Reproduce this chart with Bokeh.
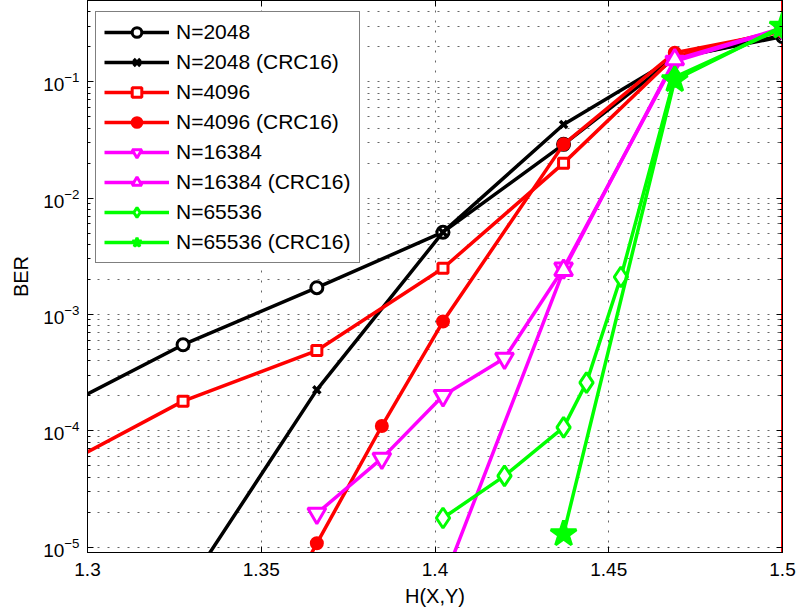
from bokeh.plotting import figure
from bokeh.models import (LinearAxis, LogAxis, FixedTicker, Span,
                          NumeralTickFormatter)
from bokeh.embed import file_html
from bokeh.resources import INLINE

# ---- data ----
x_ticks = [1.3, 1.35, 1.4, 1.45, 1.5]
y_ticks = [1e-5, 1e-4, 1e-3, 1e-2, 1e-1]

x_2048 = [1.289, 1.3275, 1.366, 1.4023, 1.437, 1.469, 1.5]
ber_2048 = [1.4e-4, 5.5e-4, 1.7e-3, 5.1e-3, 2.9e-2, 0.16, 0.245]

x_2048_crc = [1.3275, 1.366, 1.4023, 1.437, 1.469, 1.5]
ber_2048_crc = [4.0e-6, 2.25e-4, 5.1e-3, 4.3e-2, 0.16, 0.25]

x_4096 = [1.289, 1.3275, 1.366, 1.4023, 1.437, 1.469, 1.5]
ber_4096 = [4.4e-5, 1.8e-4, 4.9e-4, 2.5e-3, 2.0e-2, 0.165, 0.28]

x_4096_crc = [1.3475, 1.366, 1.3847, 1.4023, 1.437, 1.469, 1.5]
ber_4096_crc = [1.0e-6, 1.08e-5, 1.1e-4, 8.7e-4, 2.9e-2, 0.178, 0.27]

x_16384 = [1.366, 1.3847, 1.4023, 1.42, 1.437, 1.469, 1.5]
ber_16384 = [1.95e-5, 5.8e-5, 2.0e-4, 4.2e-4, 2.5e-3, 0.15, 0.285]

x_16384_crc = [1.4023, 1.437, 1.469, 1.5]
ber_16384_crc = [5.0e-6, 2.4e-3, 0.155, 0.29]

x_65536 = [1.4023, 1.42, 1.437, 1.4436, 1.4535, 1.469, 1.5]
ber_65536 = [1.78e-5, 4.1e-5, 1.07e-4, 2.6e-4, 2.1e-3, 0.11, 0.29]

x_65536_crc = [1.437, 1.469, 1.5]
ber_65536_crc = [1.3e-5, 0.104, 0.30]

labels = ["N=2048", "N=2048 (CRC16)", "N=4096", "N=4096 (CRC16)",
          "N=16384", "N=16384 (CRC16)", "N=65536", "N=65536 (CRC16)"]

FONT = "Liberation Sans"

p = figure(width=800, height=613, x_range=(1.3, 1.5), y_range=(9e-6, 0.5),
           y_axis_type="log", output_backend="svg", toolbar_location=None,
           min_border_left=87, min_border_right=18, min_border_top=0,
           min_border_bottom=61)

p.background_fill_color = "white"
p.border_fill_color = "white"
p.outline_line_color = "black"
p.outline_line_width = 1

limit = Span(location=1.5, dimension="height", line_color="#FF0000",
             line_width=3, level="underlay")
p.add_layout(limit)

styles = [
    (x_2048, ber_2048, "black", "circle", 12, "white"),
    (x_2048_crc, ber_2048_crc, "black", "x", 10, None),
    (x_4096, ber_4096, "#FF0000", "square", 10, "white"),
    (x_4096_crc, ber_4096_crc, "#FF0000", "circle", 11, "#FF0000"),
    (x_16384, ber_16384, "#FF00FF", "inverted_triangle", 18, "white"),
    (x_16384_crc, ber_16384_crc, "#FF00FF", "triangle", 18, "white"),
    (x_65536, ber_65536, "#00FF00", "diamond", 20, "white"),
    (x_65536_crc, ber_65536_crc, "#00FF00", "star", 27, "#00FF00"),
]

for lab, (xs, ys, col, mk, sz, fill) in zip(labels, styles):
    p.line(xs, ys, line_color=col, line_width=3.5, legend_label=lab)
    p.scatter(xs, ys, marker=mk, size=sz, line_color=col,
              line_width=3.5 if mk == "x" else 3,
              fill_color=fill if fill else col, legend_label=lab)

minor = [m * 10.0 ** e for e in range(-6, 0) for m in range(2, 10)]

# axes
xa = p.xaxis[0]
xa.ticker = FixedTicker(ticks=x_ticks, minor_ticks=[])
xa.formatter = NumeralTickFormatter(format="0.[00]")
ya = p.yaxis[0]
ya.ticker = FixedTicker(ticks=y_ticks, minor_ticks=minor)

for ax in (xa, ya):
    ax.major_tick_in = 6
    ax.major_tick_out = 0
    ax.minor_tick_in = 3
    ax.minor_tick_out = 0
    ax.axis_line_color = "black"
    ax.major_tick_line_color = "black"
    ax.minor_tick_line_color = "black"
    ax.major_label_text_font = FONT
    ax.major_label_text_font_size = "19px"
    ax.major_label_text_color = "black"
    ax.axis_label_text_font = FONT
    ax.axis_label_text_font_size = "20px"
    ax.axis_label_text_font_style = "normal"
    ax.axis_label_text_color = "black"

xa.axis_label = "H(X,Y)"
xa.major_label_standoff = 10
xa.axis_label_standoff = 6
ya.axis_label = "BER"
ya.major_label_standoff = 8
ya.axis_label_standoff = 8

top = LinearAxis(ticker=FixedTicker(ticks=x_ticks, minor_ticks=[]),
                 major_label_overrides={t: "" for t in x_ticks},
                 major_label_text_font_size="1px",
                 major_tick_in=6, major_tick_out=0, minor_tick_in=0,
                 minor_tick_out=0, major_label_standoff=0,
                 axis_label_standoff=0, axis_line_color="black")
p.add_layout(top, "above")
right = LogAxis(ticker=FixedTicker(ticks=y_ticks, minor_ticks=minor),
                major_label_overrides={t: "" for t in y_ticks},
                major_label_text_font_size="1px",
                major_tick_in=6, major_tick_out=0, minor_tick_in=3,
                minor_tick_out=0, major_label_standoff=0,
                axis_label_standoff=0, axis_line_color="black")
p.add_layout(right, "right")

# grid
for g in (p.xgrid[0], p.ygrid[0]):
    g.grid_line_color = "black"
    g.grid_line_dash = "2 8"
    g.grid_line_alpha = 0.6
    g.grid_line_width = 1
p.ygrid[0].minor_grid_line_color = "black"
p.ygrid[0].minor_grid_line_dash = "2 8"
p.ygrid[0].minor_grid_line_alpha = 0.6

# legend
lg = p.legend[0]
lg.location = (8, 289)
lg.margin = 0
lg.padding = 8
lg.spacing = 6
lg.glyph_width = 65
lg.glyph_height = 24
lg.label_height = 24
lg.label_standoff = 7
lg.label_text_font = FONT
lg.label_text_font_size = "21px"
lg.label_text_color = "black"
lg.border_line_color = "black"
lg.border_line_width = 1.5
lg.background_fill_color = "white"
lg.background_fill_alpha = 1.0

open("out.html", "w").write(file_html(p, INLINE))
